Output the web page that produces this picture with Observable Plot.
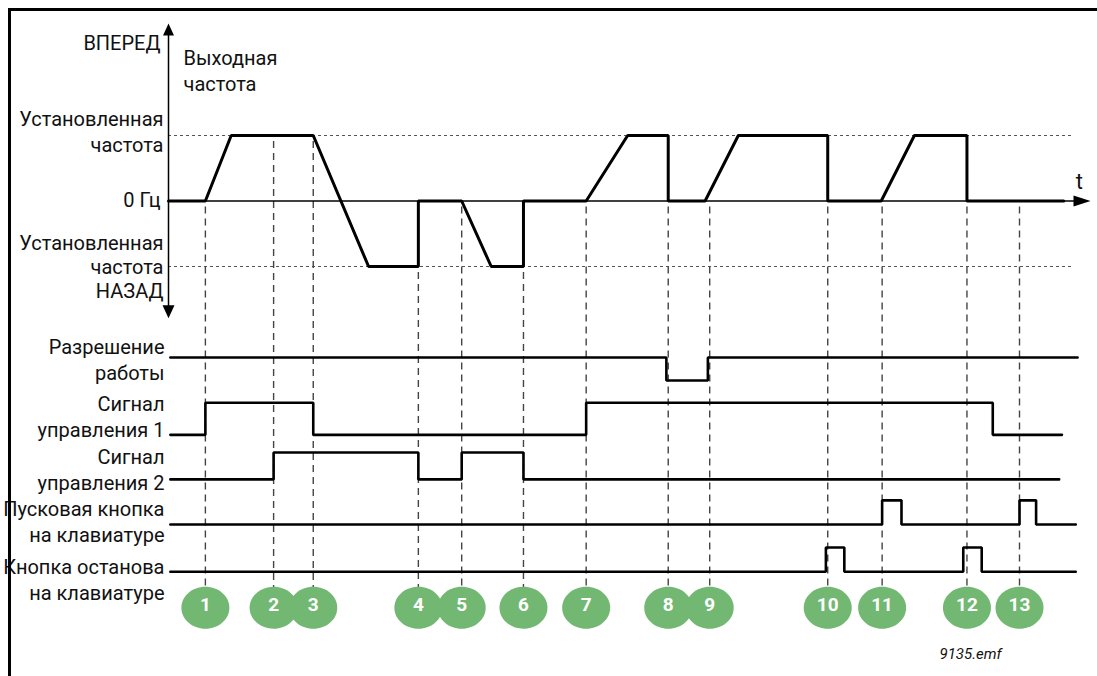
<!DOCTYPE html>
<html><head><meta charset="utf-8">
<script src="https://cdn.jsdelivr.net/npm/d3@7"></script>
<script src="https://cdn.jsdelivr.net/npm/@observablehq/plot@0.6"></script>
<style>
body{margin:0;background:#fff;}
#wrap{position:relative;width:1097px;height:676px;overflow:hidden;background:#fff;}
#frame{position:absolute;left:8px;top:8px;right:-10px;bottom:-10px;border-top:3px solid #000;border-left:3px solid #000;pointer-events:none;}
</style></head><body><div id="wrap"></div>
<script>
// ---- data (time in arbitrary units 0..100) ----
const eventNumbers = [1,2,3,4,5,6,7,8,9,10,11,12,13];
const eventTimes   = [4.0, 11.4, 15.7, 27.1, 31.8, 38.5, 45.3, 54.2, 58.7, 71.5, 77.4, 86.6, 92.3];

// output frequency: 1 = set frequency forward, 0 = 0 Hz, -1 = set frequency reverse
const freqTime  = [0, 4.0, 6.8, 15.7, 21.7, 27.1, 27.1, 31.8, 35.0, 38.5, 38.5, 45.3, 49.8, 54.2, 54.2, 58.2, 61.8, 71.5, 71.5, 77.3, 80.9, 86.6, 86.6, 97.1];
const freqValue = [0, 0,   1,   1,   -1,   -1,   0,    0,    -1,   -1,   0,    0,    1,    1,    0,    0,    1,    1,    0,    0,    1,    1,    0,    0];

const freqLabels = ["ВПЕРЕД", "Установленная\nчастота", "0 Гц", "Установленная\nчастота\nНАЗАД"];
const axisTitle = "Выходная\nчастота";
const timeLabel = "t";
const fileLabel = "9135.emf";

const signalNames = ["Разрешение\nработы", "Сигнал\nуправления 1", "Сигнал\nуправления 2", "Пусковая кнопка\nна клавиатуре", "Кнопка останова\nна клавиатуре"];
const enableTime = [0.2, 54.0, 58.5, 98.6];            const enableValue = [1, 0, 1, 1];
const ctrl1Time  = [0.2, 4.0, 15.7, 45.3, 89.4, 96.9]; const ctrl1Value  = [0, 1, 0, 1, 0, 0];
const ctrl2Time  = [0.2, 11.4, 27.1, 31.8, 38.5, 96.6];const ctrl2Value  = [0, 1, 0, 1, 0, 0];
const startTime  = [0.2, 77.4, 79.5, 92.3, 94.1, 98.4];const startValue  = [0, 1, 0, 1, 0, 0];
const stopTime   = [0.2, 71.3, 73.3, 86.2, 88.2, 98.4];const stopValue   = [0, 1, 0, 1, 0, 0];

// ---- layout (vertical lanes, in frequency-axis units) ----
const laneHigh = [-2.39, -3.08, -3.84, -4.57, -5.29];
const laneLow  = [-2.74, -3.57, -4.25, -4.94, -5.66];
const markerRow = -6.21;
const axisTop = 2.71, axisBottom = -1.79, axisEnd = 100, guideEnd = 98.2, zeroEnd = 99;
const laneLabelDy = [1.5, 13, 16.5, 20, 31];

// ---- build tables ----
const freqData = freqTime.map((t, i) => ({t, v: freqValue[i]}));
const signalSeries = [
  [enableTime, enableValue], [ctrl1Time, ctrl1Value], [ctrl2Time, ctrl2Value],
  [startTime, startValue], [stopTime, stopValue]
];
const signalData = signalSeries.flatMap(([ts, vs], lane) =>
  ts.map((t, j) => ({lane, t, level: vs[j] ? laneHigh[lane] : laneLow[lane]})));

function freqAt(t) {
  const exact = freqData.filter(d => d.t === t).map(d => d.v);
  if (exact.length) return Math.min(...exact);
  for (let i = 1; i < freqData.length; i++) {
    const a = freqData[i - 1], b = freqData[i];
    if (a.t < t && t < b.t) return a.v + (b.v - a.v) * (t - a.t) / (b.t - a.t);
  }
  return 0;
}
const events = eventNumbers.map((n, i) => ({n, t: eventTimes[i], start: Math.floor(freqAt(eventTimes[i]) + 1e-9)}));

const arrowHead = (len, half) => ({draw(ctx) { ctx.moveTo(0, 0); ctx.lineTo(-half, len); ctx.lineTo(half, len); ctx.closePath(); }});
const ellipse = {draw(ctx) {
  const rx = 24, ry = 21, k = 0.5523;
  ctx.moveTo(rx, 0);
  ctx.bezierCurveTo(rx, ry * k, rx * k, ry, 0, ry);
  ctx.bezierCurveTo(-rx * k, ry, -rx, ry * k, -rx, 0);
  ctx.bezierCurveTo(-rx, -ry * k, -rx * k, -ry, 0, -ry);
  ctx.bezierCurveTo(rx * k, -ry, rx, -ry * k, rx, 0);
  ctx.closePath();
}};

const font = "Roboto, 'Open Sans', sans-serif";
const chart = Plot.plot({
  width: 1097, height: 676,
  style: {fontFamily: font, background: "transparent", color: "#111"},
  x: {axis: null, domain: [0, 100], range: [168, 1090]},
  y: {axis: null, domain: [-1, 1], range: [266, 135]},
  marks: [
    // set-frequency guides
    Plot.ruleY([1, -1], {x1: 0, x2: guideEnd, stroke: "#555", strokeWidth: 1, strokeDasharray: "3,3"}),
    // event guides
    Plot.ruleX(events, {x: "t", y1: "start", y2: markerRow, stroke: "#444", strokeWidth: 1.4, strokeDasharray: "7,5", insetTop: 6}),
    // axes
    Plot.ruleX([0], {y1: axisTop - 0.1, y2: axisBottom + 0.1, stroke: "#000", strokeWidth: 1.5}),
    Plot.ruleY([0], {x1: 0, x2: zeroEnd, stroke: "#000", strokeWidth: 1.5}),
    Plot.dot([0], {x: 0, y: axisTop, symbol: arrowHead(12, 5.5), fill: "#000", stroke: null}),
    Plot.dot([0], {x: 0, y: axisBottom, symbol: arrowHead(13, 6), rotate: 180, fill: "#000", stroke: null}),
    Plot.dot([0], {x: axisEnd, y: 0, symbol: arrowHead(17, 5.5), rotate: 90, fill: "#000", stroke: null}),
    // output frequency
    Plot.line(freqData, {x: "t", y: "v", stroke: "#000", strokeWidth: 3, strokeLinejoin: "miter"}),
    // signals
    Plot.line(signalData, {x: "t", y: "level", z: "lane", curve: "step-after", stroke: "#000", strokeWidth: 2.6, strokeLinejoin: "miter"}),
    // labels
    Plot.text([freqLabels[0]], {x: 0, y: axisTop, dy: 20, dx: -8, textAnchor: "end", fontSize: 20}),
    Plot.text([freqLabels[1]], {x: 0, y: 1, dy: -5, dx: -5, textAnchor: "end", lineAnchor: "middle", lineHeight: 1.3, fontSize: 20}),
    Plot.text([freqLabels[2]], {x: 0, y: 0, dy: 0, dx: -8, textAnchor: "end", fontSize: 20}),
    Plot.text([freqLabels[3]], {x: 0, y: -1, dy: 0, dx: -5, textAnchor: "end", lineAnchor: "middle", lineHeight: 1.18, fontSize: 20}),
    Plot.text([axisTitle], {x: 0, y: 2, dy: 0, dx: 15, textAnchor: "start", lineAnchor: "middle", lineHeight: 1.3, fontSize: 20}),
    Plot.text([timeLabel], {x: 98.8, y: 0, dy: -19, textAnchor: "middle", fontSize: 22}),
    ...signalNames.map((name, i) => Plot.text([name], {x: 0, y: laneHigh[i], dx: -4, dy: laneLabelDy[i], textAnchor: "end", lineAnchor: "middle", lineHeight: 1.3, fontSize: 20})),
    // event markers
    Plot.dot(events, {x: "t", y: markerRow, symbol: ellipse, fill: "#72b872", stroke: null}),
    Plot.text(events, {x: "t", y: markerRow, text: "n", dy: -3, fill: "#fff", fontWeight: "bold", fontSize: 19}),
    Plot.text([fileLabel], {frameAnchor: "bottom-right", dx: -157, dy: -17, textAnchor: "start", fontStyle: "italic", fontSize: 15})
  ]
});
const wrap = document.getElementById("wrap");
wrap.appendChild(chart);
const frame = document.createElement("div");
frame.id = "frame";
wrap.appendChild(frame);
</script></body></html>
